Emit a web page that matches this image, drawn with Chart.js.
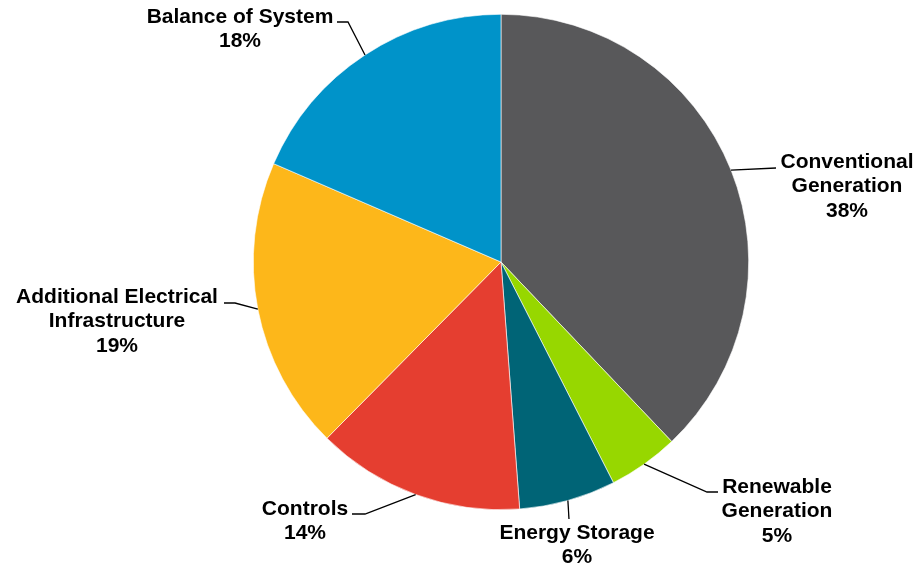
<!DOCTYPE html>
<html lang="en">
<head>
    <meta charset="UTF-8">
    <title>Cost Breakdown</title>
    <script src="https://cdn.jsdelivr.net/npm/chart.js"></script>
    <style>
        html, body { margin: 0; padding: 0; background: #ffffff; }
        canvas { display: block; }
    </style>
</head>
<body>
    <canvas id="pieChart" width="914" height="567"></canvas>

    <script>
        // Data
        const categories = ['Conventional\nGeneration', 'Renewable\nGeneration', 'Energy Storage', 'Controls', 'Additional Electrical\nInfrastructure', 'Balance of System'];
        const shares = [37.9, 4.6, 6.3, 13.6, 19.1, 18.5];
        const shareLabels = ['38%', '5%', '6%', '14%', '19%', '18%'];
        const colors = ['#58585A', '#97D700', '#006476', '#E53E30', '#FDB71A', '#0093C9'];

        // where each label sits (text centre, first line) and the bends of its leader line
        const labelPlaces = [
            { x: 847, y: 162, bends: [[776, 168]] },
            { x: 777, y: 487, bends: [[707, 492], [718, 492]] },
            { x: 577, y: 533, bends: [[569, 519]] },
            { x: 305, y: 509, bends: [[365, 514], [352, 514]] },
            { x: 117, y: 297, bends: [[235, 303], [224, 303]] },
            { x: 240, y: 17, bends: [[348, 22], [337, 22]] }
        ];

        const outsideLabels = {
            id: 'outsideLabels',
            afterDraw(chart) {
                const ctx = chart.ctx;
                const meta = chart.getDatasetMeta(0);
                ctx.save();
                meta.data.forEach((arc, i) => {
                    const p = arc.getProps(['x', 'y', 'startAngle', 'endAngle', 'outerRadius'], true);
                    const mid = (p.startAngle + p.endAngle) / 2;
                    const place = labelPlaces[i];

                    // leader line
                    ctx.strokeStyle = '#000000';
                    ctx.lineWidth = 1.3;
                    ctx.beginPath();
                    ctx.moveTo(p.x + Math.cos(mid) * p.outerRadius, p.y + Math.sin(mid) * p.outerRadius);
                    place.bends.forEach(b => ctx.lineTo(b[0], b[1]));
                    ctx.stroke();

                    // text
                    const lines = chart.data.labels[i].split('\n').concat([shareLabels[i]]);
                    ctx.fillStyle = '#000000';
                    ctx.font = 'bold 21px "Liberation Sans", Arial, sans-serif';
                    ctx.textAlign = 'center';
                    ctx.textBaseline = 'middle';
                    lines.forEach((line, k) => {
                        ctx.fillText(line, place.x, place.y + k * 24.5);
                    });
                });
                ctx.restore();
            }
        };

        const ctx = document.getElementById('pieChart').getContext('2d');
        new Chart(ctx, {
            type: 'pie',
            data: {
                labels: categories,
                datasets: [{
                    data: shares,
                    backgroundColor: colors,
                    borderColor: '#ffffff',
                    borderWidth: 0.6
                }]
            },
            options: {
                responsive: false,
                animation: false,
                layout: {
                    padding: { top: 14, bottom: 57, left: 253, right: 165 }
                },
                plugins: {
                    legend: { display: false },
                    tooltip: { enabled: false }
                }
            },
            plugins: [outsideLabels]
        });
    </script>
</body>
</html>
